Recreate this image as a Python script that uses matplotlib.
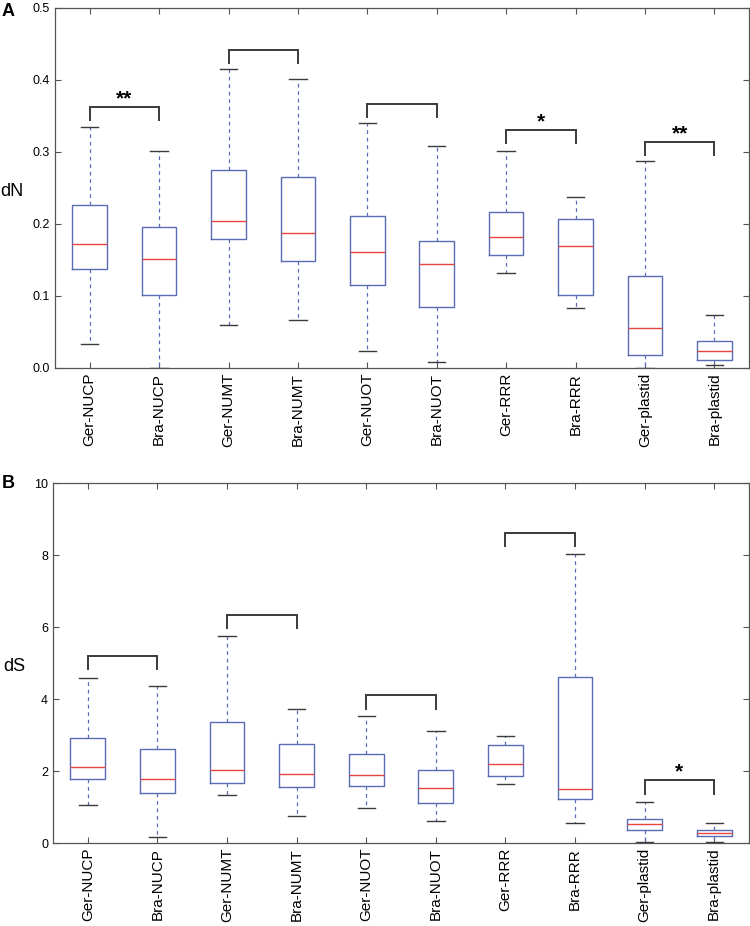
import matplotlib
matplotlib.use("Agg")
import matplotlib.pyplot as plt

plt.rcParams['font.family'] = ['Liberation Sans', 'DejaVu Sans']

categories = ["Ger-NUCP", "Bra-NUCP", "Ger-NUMT", "Bra-NUMT", "Ger-NUOT",
              "Bra-NUOT", "Ger-RRR", "Bra-RRR", "Ger-plastid", "Bra-plastid"]

# dN panel: whisker low, Q1, median, Q3, whisker high
dn_low = [0.034, 0.0, 0.060, 0.066, 0.023, 0.008, 0.132, 0.083, 0.0, 0.004]
dn_q1 = [0.137, 0.101, 0.179, 0.148, 0.115, 0.085, 0.157, 0.101, 0.018, 0.011]
dn_med = [0.172, 0.152, 0.204, 0.188, 0.161, 0.145, 0.182, 0.170, 0.055, 0.024]
dn_q3 = [0.226, 0.196, 0.275, 0.265, 0.211, 0.177, 0.216, 0.207, 0.128, 0.038]
dn_high = [0.335, 0.301, 0.415, 0.401, 0.340, 0.309, 0.301, 0.237, 0.287, 0.074]

# dS panel
ds_low = [1.05, 0.17, 1.34, 0.75, 0.96, 0.60, 1.65, 0.56, 0.02, 0.02]
ds_q1 = [1.78, 1.38, 1.66, 1.56, 1.59, 1.11, 1.87, 1.22, 0.36, 0.19]
ds_med = [2.11, 1.79, 2.02, 1.93, 1.90, 1.53, 2.19, 1.51, 0.52, 0.28]
ds_q3 = [2.91, 2.60, 3.36, 2.75, 2.47, 2.04, 2.71, 4.62, 0.68, 0.35]
ds_high = [4.58, 4.35, 5.74, 3.71, 3.52, 3.12, 2.96, 8.04, 1.14, 0.56]

# significance brackets: (left index, right index, bar height, label)
dn_brackets = [(0, 1, 0.362, "**"), (2, 3, 0.442, ""), (4, 5, 0.367, ""),
               (6, 7, 0.330, "*"), (8, 9, 0.3145, "**")]
ds_brackets = [(0, 1, 5.20, ""), (2, 3, 6.33, ""), (4, 5, 4.10, ""),
               (6, 7, 8.62, ""), (8, 9, 1.74, "*")]

BOX_C = "#5a6cb4"
MED_C = "#e8453f"
CAP_C = "#3a3a3a"
SPINE_C = "#555555"


def draw_panel(ax, low, q1, med, q3, high, brackets, ylim, yticks, yticklabels,
               ylabel, leg, label_x):
    stats = []
    for i, name in enumerate(categories):
        stats.append(dict(label=name, whislo=low[i], q1=q1[i], med=med[i],
                          q3=q3[i], whishi=high[i], fliers=[]))
    ax.bxp(stats, positions=list(range(1, len(categories) + 1)), widths=0.5,
           showfliers=False,
           boxprops=dict(color=BOX_C, linewidth=1.0),
           medianprops=dict(color=MED_C, linewidth=1.0),
           whiskerprops=dict(color=BOX_C, linewidth=0.9, linestyle=(0, (3, 3))),
           capprops=dict(color=CAP_C, linewidth=1.0),
           capwidths=0.25)
    for (a, b, h, lab) in brackets:
        xa, xb = a + 1, b + 1
        ax.plot([xa, xa, xb, xb], [h - leg, h, h, h - leg], color=CAP_C,
                linewidth=1.4, clip_on=False, solid_joinstyle='miter')
        if lab:
            ax.annotate(lab, xy=((xa + xb) / 2, h), xytext=(0, 1.9),
                        textcoords='offset points', ha='center', va='baseline',
                        fontsize=15, fontweight='bold')
    ax.set_xlim(0.5, 10.5)
    ax.set_ylim(*ylim)
    ax.set_yticks(yticks)
    ax.set_yticklabels(yticklabels, fontsize=9)
    ax.set_xticks(range(1, len(categories) + 1))
    ax.set_xticklabels(categories, rotation=90, fontsize=11)
    ax.tick_params(direction='in', top=True, right=True, color=SPINE_C,
                   length=4, width=0.8)
    for s in ax.spines.values():
        s.set_color(SPINE_C)
        s.set_linewidth(0.9)
    ax.set_ylabel(ylabel, fontsize=13, rotation=0, ha='center', va='center')
    ax.yaxis.set_label_coords(label_x, 0.489)


fig = plt.figure(figsize=(7.5, 9.26), dpi=100)
W, H = 750, 926
ax1 = fig.add_axes([55 / W, 1 - 368 / H, 694 / W, 360 / H])
ax2 = fig.add_axes([53 / W, 1 - 843 / H, 696 / W, 360 / H])

draw_panel(ax1, dn_low, dn_q1, dn_med, dn_q3, dn_high, dn_brackets,
           (0, 0.5), [0, 0.1, 0.2, 0.3, 0.4, 0.5],
           ["0.0", "0.1", "0.2", "0.3", "0.4", "0.5"], "dN", 0.018, -0.062)
draw_panel(ax2, ds_low, ds_q1, ds_med, ds_q3, ds_high, ds_brackets,
           (0, 10), [0, 2, 4, 6, 8, 10],
           ["0", "2", "4", "6", "8", "10"], "dS", 0.37, -0.055)

fig.text(2 / W, 1 - 12 / H, "A", fontsize=13, fontweight='bold', va='center')
fig.text(2 / W, 1 - 484 / H, "B", fontsize=13, fontweight='bold', va='center')

fig.savefig("out.png", dpi=100)
